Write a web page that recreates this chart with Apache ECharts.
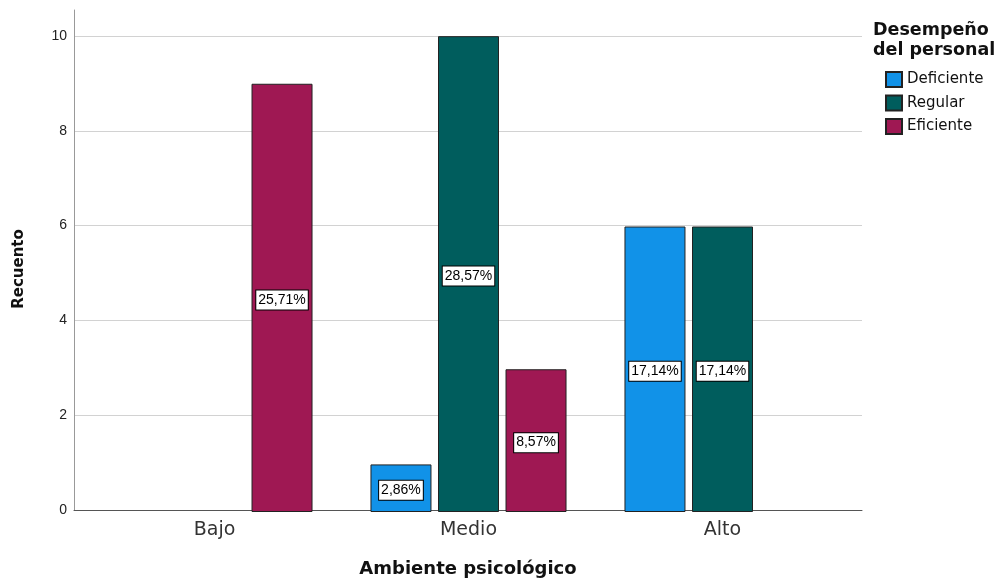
<!DOCTYPE html>
<html>
<head>
<meta charset="utf-8">
<script src="https://cdn.jsdelivr.net/npm/echarts@6/dist/echarts.min.js"></script>
<style>
  html, body { margin: 0; padding: 0; background: #fff; }
  #chart { width: 1003px; height: 583px; }
</style>
</head>
<body>
<div id="chart"></div>
<script>
// Counts per level of "Ambiente psicológico", one array per performance group
const categories = ['Bajo', 'Medio', 'Alto'];
const groupNames = ['Deficiente', 'Regular', 'Eficiente'];
const deficiente = [null, 1, 6];
const regular = [null, 10, 6];
const eficiente = [9, 3, null];
const yTicks = [0, 2, 4, 6, 8, 10];

const colors = ['#1192e8', '#005d5d', '#9f1853'];
const seriesValues = [deficiente, regular, eficiente];
const total = seriesValues.flat().reduce((s, v) => s + (v || 0), 0);

const FONT = '"Liberation Sans", Arial, sans-serif';
const WIDE_FONT = '"DejaVu Sans", "Liberation Sans", sans-serif';
const yMax = 10.55;

// Percent of all respondents, Spanish decimal comma
const pct = v => (v / total * 100).toFixed(2).replace('.', ',') + '%';

const chart = echarts.init(document.getElementById('chart'), null, { renderer: 'canvas' });

chart.setOption({
  backgroundColor: '#ffffff',
  animation: false,
  textStyle: { fontFamily: FONT },
  title: {
    text: 'Desempeño\ndel personal',
    left: 873,
    top: 20,
    padding: 0,
    textStyle: {
      fontFamily: WIDE_FONT,
      fontWeight: 'bold',
      fontSize: 17.5,
      lineHeight: 20,
      color: '#111'
    }
  },
  legend: {
    orient: 'vertical',
    left: 885,
    top: 71,
    padding: 0,
    itemWidth: 16,
    itemHeight: 15,
    itemGap: 6.5,
    icon: 'rect',
    data: groupNames,
    textStyle: { fontFamily: WIDE_FONT, fontSize: 15, color: '#111', padding: [0, 0, 0, 0] }
  },
  grid: [
    // frame: axis lines and gridlines
    { left: 74, right: 141, top: 10, bottom: 71, containLabel: false },
    // bar area, inset inside the frame
    { left: 87.5, right: 153.5, top: 10, bottom: 71, containLabel: false }
  ],
  xAxis: [
    {
      gridIndex: 0,
      type: 'value',
      min: 0,
      max: 1,
      axisLine: { show: true, lineStyle: { color: '#555', width: 1 } },
      axisTick: { show: false },
      axisLabel: { show: false },
      splitLine: { show: false },
      name: 'Ambiente psicológico',
      nameLocation: 'middle',
      nameGap: 50,
      nameTextStyle: {
        fontFamily: WIDE_FONT,
        fontWeight: 'bold',
        fontSize: 18,
        color: '#111'
      }
    },
    {
      gridIndex: 1,
      type: 'category',
      data: categories,
      axisLine: { show: false },
      axisTick: { show: false },
      axisLabel: { fontFamily: WIDE_FONT, fontSize: 19, color: '#333', margin: 9 }
    }
  ],
  yAxis: [
    {
      gridIndex: 0,
      type: 'value',
      min: 0,
      max: yMax,
      interval: 2,
      axisLine: { show: true, lineStyle: { color: '#999', width: 1 } },
      axisTick: { show: false },
      axisLabel: {
        fontFamily: FONT,
        fontSize: 14,
        color: '#222',
        margin: 7,
        showMaxLabel: false,
        formatter: v => (yTicks.includes(v) ? String(v) : '')
      },
      splitLine: {
        show: true,
        showMaxLine: false,
        lineStyle: { color: '#d2d2d2', width: 1 }
      },
      name: 'Recuento',
      nameLocation: 'middle',
      nameGap: 47,
      nameTextStyle: {
        fontFamily: WIDE_FONT,
        fontWeight: 'bold',
        fontSize: 15,
        color: '#111',
        padding: [0, 18, 0, 0]
      }
    },
    {
      gridIndex: 1,
      type: 'value',
      min: 0,
      max: yMax,
      show: false
    }
  ],
  series: groupNames.map((name, i) => ({
    name: name,
    type: 'bar',
    xAxisIndex: 1,
    yAxisIndex: 1,
    data: seriesValues[i],
    barWidth: 61,
    barGap: '10.7%',
    itemStyle: { color: colors[i], borderColor: '#222', borderWidth: 1 },
    label: {
      show: true,
      position: 'inside',
      offset: [0, 2],
      formatter: p => pct(p.value),
      fontFamily: FONT,
      fontSize: 14,
      color: '#000',
      backgroundColor: '#fff',
      borderColor: '#000',
      borderWidth: 1,
      padding: [2, 2, 1, 2],
      lineHeight: 16
    }
  }))
});
</script>
</body>
</html>
